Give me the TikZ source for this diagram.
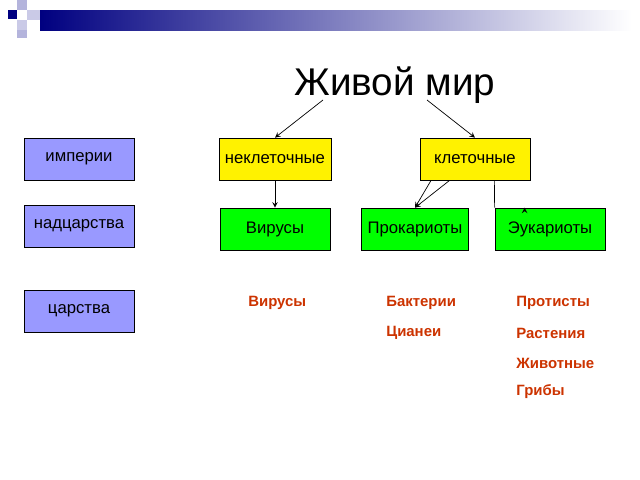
\documentclass[tikz,border=0pt]{standalone}
\usepackage{fontspec}
\setmainfont{Liberation Sans}
\definecolor{navy}{RGB}{0,0,128}
\definecolor{lnavy}{RGB}{180,180,220}
\definecolor{boxblue}{RGB}{153,153,255}
\definecolor{redtext}{RGB}{204,51,0}
\begin{document}
\begin{tikzpicture}
[
x=0.02cm, y=-0.02cm,
Box/.style={rectangle, draw=black, fill=#1, minimum width=2.2cm, minimum height=0.84cm, font=\fontsize{9.5}{11}\selectfont},
Kind/.style={anchor=west, text=redtext, font=\bfseries\fontsize{8.5}{10}\selectfont, inner sep=0pt},
Link/.style={-stealth, thin, draw=black},
]
\useasboundingbox (0,0) rectangle (640,480);
% header
\shade[left color=navy, right color=white] (40,10) rectangle (632,30);
\fill[navy] (8,10) rectangle (17,19);
\fill[lnavy] (17,0) rectangle (27,10);
\fill[lnavy!70] (27,10) rectangle (40,20);
\fill[lnavy!70] (17,20) rectangle (27,30);
\fill[lnavy] (17,30) rectangle (27,38);

\node (title) at (395,85) {\fontsize{22}{26}\selectfont Живой мир};

\node[Box=boxblue] (imp) at (79,159) {империи};
\node[Box=boxblue] (nad) at (79,226) {надцарства};
\node[Box=boxblue] (car) at (79,311) {царства};

\node[Box=yellow] (nekl) at (275,159) {неклеточные};
\node[Box=yellow] (kl) at (475,159) {клеточные};

\node[Box=green] (vir) at (275,229) {Вирусы};
\node[Box=green, minimum width=2.06cm] (prok) at (415,229) {Прокариоты};
\node[Box=green] (euk) at (550,229) {Эукариоты};

\coordinate (tl) at (323,100);
\coordinate (tr) at (427,100);
\draw[Link] (tl) -- (nekl.north);
\draw[Link] (tr) -- (kl.north);
\draw[Link] (nekl.south) -- (vir.north);
\draw[Link] (kl.south west) ++(30,0) -- (prok.north);
\draw[Link] (kl.south east) ++(-36,0) -- (euk.north west) ++(30,0);
\draw[Link] ([xshift=-25]kl.south) -- (prok.north);

\node[Kind] (k1) at (248,303) {Вирусы};
\node[Kind] (k2) at (386,303) {Бактерии};
\node[Kind] (k3) at (386,333) {Цианеи};
\node[Kind] (k4) at (516,303) {Протисты};
\node[Kind] (k5) at (516,333) {Растения};
\node[Kind] (k6) at (516,363) {Животные};
\node[Kind] (k7) at (516,392) {Грибы};
\end{tikzpicture}
\end{document}
